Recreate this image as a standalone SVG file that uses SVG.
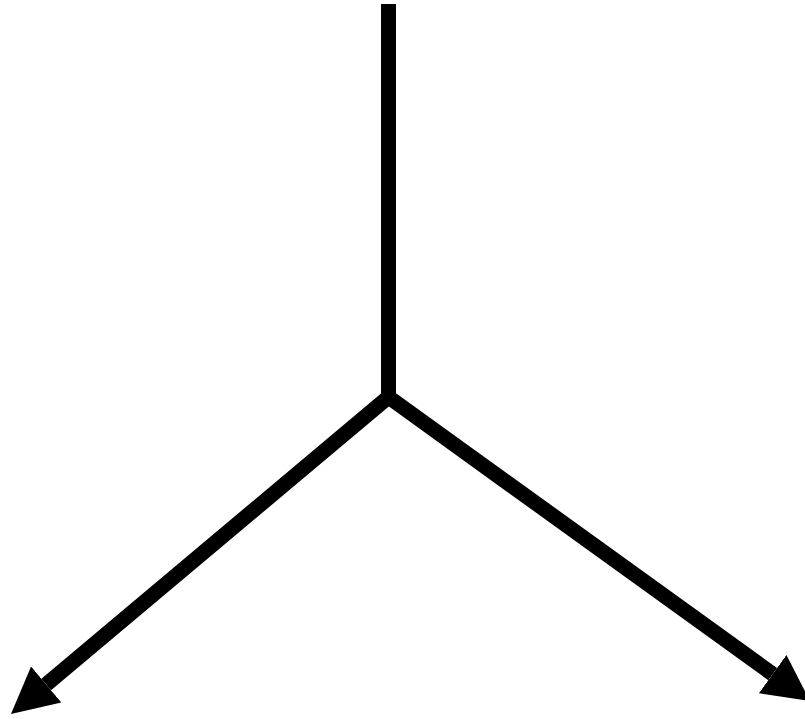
<svg xmlns="http://www.w3.org/2000/svg" width="805" height="719" viewBox="0 0 805 719">
  <defs>
    <style>
      .edge { fill: none; stroke: #000; stroke-width: 15; stroke-linejoin: miter; stroke-miterlimit: 10; stroke-linecap: butt; marker-end: url(#arrow); }
    </style>
    <marker id="arrow" markerUnits="userSpaceOnUse" markerWidth="50" markerHeight="50" viewBox="0 -25 50 50" refX="0" refY="0" orient="auto">
      <path d="M0,-23.5 L46,0 L0,23.5 Z" fill="#000"/>
    </marker>
  </defs>
  <rect width="805" height="719" fill="#fff"/>
  <g id="connectors">
    <path class="edge" d="M388.5,4 V397 L46.2,684.4"/>
    <path class="edge" d="M388.5,4 V397 L772.7,674.1"/>
  </g>
</svg>
